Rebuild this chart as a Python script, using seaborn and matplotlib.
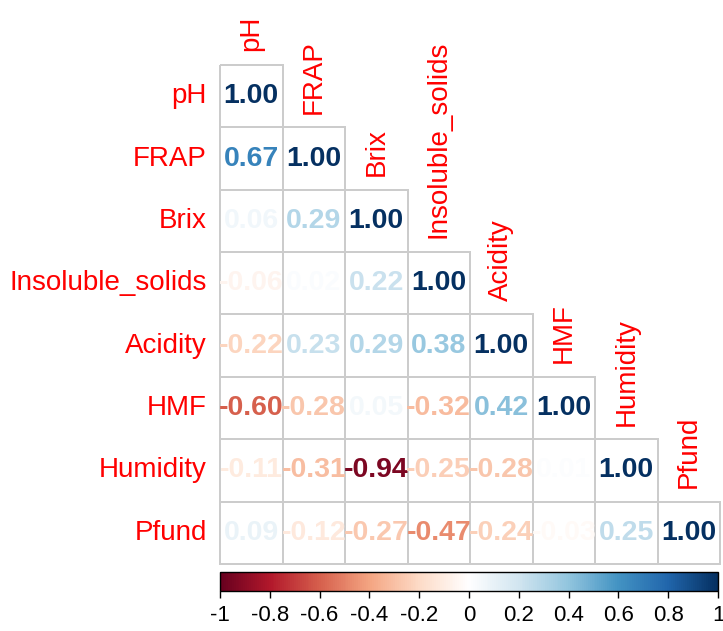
import numpy as np
import pandas as pd
import seaborn as sns
import matplotlib.pyplot as plt
from matplotlib.colors import LinearSegmentedColormap, ListedColormap, Normalize

labels = ["pH", "FRAP", "Brix", "Insoluble_solids", "Acidity", "HMF", "Humidity", "Pfund"]

# lower triangle of the correlation matrix, one list per row
r_ph = [1.00]
r_frap = [0.67, 1.00]
r_brix = [0.06, 0.29, 1.00]
r_insol = [-0.06, 0.02, 0.22, 1.00]
r_acid = [-0.22, 0.23, 0.29, 0.38, 1.00]
r_hmf = [-0.60, -0.28, 0.05, -0.32, 0.42, 1.00]
r_hum = [-0.11, -0.31, -0.94, -0.25, -0.28, 0.01, 1.00]
r_pfund = [0.09, -0.12, -0.27, -0.47, -0.24, -0.03, 0.25, 1.00]

cbar_ticks = [-1, -0.8, -0.6, -0.4, -0.2, 0, 0.2, 0.4, 0.6, 0.8, 1]
cbar_labels = ["-1", "-0.8", "-0.6", "-0.4", "-0.2", "0", "0.2", "0.4", "0.6", "0.8", "1"]

rows = [r_ph, r_frap, r_brix, r_insol, r_acid, r_hmf, r_hum, r_pfund]
n = len(labels)
mat = np.full((n, n), np.nan)
for i, row in enumerate(rows):
    mat[i, :len(row)] = row
df = pd.DataFrame(mat, index=labels, columns=labels)
mask = np.triu(np.ones((n, n), dtype=bool), k=1)

# RdBu brewer palette as corrplot uses it (white center)
rdbu = LinearSegmentedColormap.from_list("rdbu", [
    "#67001F", "#B2182B", "#D6604D", "#F4A582", "#FDDBC7", "#FFFFFF",
    "#D1E5F0", "#92C5DE", "#4393C3", "#2166AC", "#053061"])

plt.rcParams['font.family'] = ['Liberation Sans', 'DejaVu Sans']

fig = plt.figure(figsize=(7.23, 6.31), dpi=100)
ax = fig.add_axes([0.3043, 0.1062, 0.6916, 0.7908])
cax = fig.add_axes([0.3043, 0.0634, 0.6888, 0.0301])

sns.heatmap(df, mask=mask, cmap=ListedColormap(["white"]), vmin=-1, vmax=1,
            annot=True, fmt=".2f", annot_kws={"fontsize": 20.5, "fontweight": "bold"},
            linewidths=1.1, linecolor="#c8c8c8", cbar=False, ax=ax)

# only the lower triangle gets a grid
mesh = ax.collections[0]
ec = [(0, 0, 0, 0) if mask[i, j] else (0.8, 0.8, 0.8, 1)
      for i in range(n) for j in range(n)]
mesh.set_edgecolor(ec)
mesh.set_clip_on(False)

# numbers coloured by value
for t in ax.texts:
    v = float(t.get_text())
    t.set_color(rdbu((v + 1) / 2))

ax.set_xticks([])
ax.set_yticklabels(labels, rotation=0, color="red", fontsize=20)
ax.tick_params(left=False, bottom=False, pad=6)
ax.set_xlabel("")
ax.set_ylabel("")

for j, lab in enumerate(labels):
    ax.text(j + 0.5, j - 0.22, lab, rotation=90, ha="center", va="bottom",
            color="red", fontsize=20)

sm = plt.cm.ScalarMappable(norm=Normalize(-1, 1), cmap=rdbu)
cb = fig.colorbar(sm, cax=cax, orientation="horizontal", ticks=cbar_ticks)
cb.ax.set_xticklabels(cbar_labels, fontsize=16)
cb.ax.tick_params(length=5, width=1, direction="out", pad=5)
cb.outline.set_linewidth(1)
cb.outline.set_edgecolor("black")

fig.savefig("out.png", dpi=100)
